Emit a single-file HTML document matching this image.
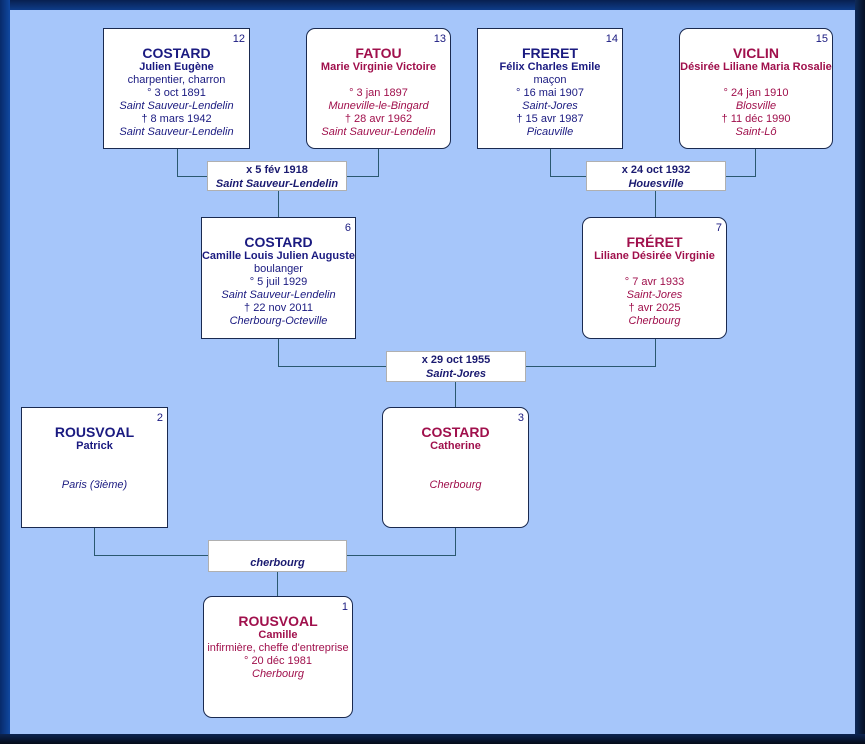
<!DOCTYPE html>
<html><head><meta charset="utf-8"><style>
*{margin:0;padding:0;box-sizing:border-box}
body{width:865px;height:744px;overflow:hidden;position:relative;font-family:"Liberation Sans",sans-serif;background:#0a2a60}
.top{position:absolute;left:0;top:0;width:865px;height:10px;background:linear-gradient(#082050,#0e3c88)}
.left{position:absolute;left:0;top:0;width:10px;height:744px;background:linear-gradient(90deg,#082a6a,#1048a0)}
.right{position:absolute;right:0;top:0;width:10px;height:744px;background:linear-gradient(90deg,#0e2a58,#061024)}
.bot{position:absolute;left:0;bottom:0;width:865px;height:10px;background:linear-gradient(#0c2450,#040a18)}
.inner{position:absolute;left:10px;top:10px;width:845px;height:724px;background:#a6c6fa}
svg{position:absolute;left:0;top:0}
.b{position:absolute;background:#fff;border:1px solid #1a2a50;text-align:center;font-size:11px;line-height:13px;padding-top:16px;white-space:nowrap;overflow:hidden}
.r{border-radius:9px}
.b .n{font-size:14px;font-weight:bold;line-height:16px}
.b .g{font-weight:bold}
.b i{display:block}
.b .num{position:absolute;right:4px;top:4px;font-size:11px}
.m{color:#1a1a80}.f{color:#a0104c}
.mar{position:absolute;background:#fff;border:1px solid #b0b0b0;text-align:center;font-size:11px;line-height:14px;font-weight:bold;color:#1a1a70;padding-top:1px}
.mar i{display:block}
</style></head><body>
<div class="top"></div><div class="left"></div><div class="right"></div><div class="bot"></div>
<div class="inner"></div>
<svg width="865" height="744"><g stroke="#2a5870" stroke-width="1" fill="none">
<path d="M177.5 148V176.5H207M378.5 148V176.5H346M278.5 190V217"/>
<path d="M550.5 148V176.5H586M755.5 148V176.5H725M655.5 190V217"/>
<path d="M278.5 338V366.5H386M655.5 338V366.5H525M455.5 381V407"/>
<path d="M94.5 527V555.5H208M455.5 527V555.5H346M277.5 571V596"/>
</g></svg>

<div class="b m" style="left:103px;top:28px;width:147px;height:121px"><span class="num">12</span><div class="n">COSTARD</div><div class="g">Julien Eugène</div><div>charpentier, charron</div><div>° 3 oct 1891</div><i>Saint Sauveur-Lendelin</i><div>† 8 mars 1942</div><i>Saint Sauveur-Lendelin</i></div>
<div class="b f r" style="left:306px;top:28px;width:145px;height:121px"><span class="num m">13</span><div class="n">FATOU</div><div class="g">Marie Virginie Victoire</div><div>&nbsp;</div><div>° 3 jan 1897</div><i>Muneville-le-Bingard</i><div>† 28 avr 1962</div><i>Saint Sauveur-Lendelin</i></div>
<div class="b m" style="left:477px;top:28px;width:146px;height:121px"><span class="num">14</span><div class="n">FRERET</div><div class="g">Félix Charles Emile</div><div>maçon</div><div>° 16 mai 1907</div><i>Saint-Jores</i><div>† 15 avr 1987</div><i>Picauville</i></div>
<div class="b f r" style="left:679px;top:28px;width:154px;height:121px"><span class="num m">15</span><div class="n">VICLIN</div><div class="g" style="margin-left:-40px;margin-right:-40px">Désirée Liliane Maria Rosalie</div><div>&nbsp;</div><div>° 24 jan 1910</div><i>Blosville</i><div>† 11 déc 1990</div><i>Saint-Lô</i></div>

<div class="mar" style="left:207px;top:161px;width:140px;height:30px">x 5 fév 1918<i>Saint Sauveur-Lendelin</i></div>
<div class="mar" style="left:586px;top:161px;width:140px;height:30px">x 24 oct 1932<i>Houesville</i></div>

<div class="b m" style="left:201px;top:217px;width:155px;height:122px"><span class="num">6</span><div class="n">COSTARD</div><div class="g" style="margin-left:-40px;margin-right:-40px">Camille Louis Julien Auguste</div><div>boulanger</div><div>° 5 juil 1929</div><i>Saint Sauveur-Lendelin</i><div>† 22 nov 2011</div><i>Cherbourg-Octeville</i></div>
<div class="b f r" style="left:582px;top:217px;width:145px;height:122px"><span class="num m">7</span><div class="n">FRÉRET</div><div class="g">Liliane Désirée Virginie</div><div>&nbsp;</div><div>° 7 avr 1933</div><i>Saint-Jores</i><div>† avr 2025</div><i>Cherbourg</i></div>

<div class="mar" style="left:386px;top:351px;width:140px;height:31px">x 29 oct 1955<i>Saint-Jores</i></div>

<div class="b m" style="left:21px;top:407px;width:147px;height:121px"><span class="num">2</span><div class="n">ROUSVOAL</div><div class="g">Patrick</div><div>&nbsp;</div><div>&nbsp;</div><i>Paris (3ième)</i></div>
<div class="b f r" style="left:382px;top:407px;width:147px;height:121px"><span class="num m">3</span><div class="n">COSTARD</div><div class="g">Catherine</div><div>&nbsp;</div><div>&nbsp;</div><i>Cherbourg</i></div>

<div class="mar" style="left:208px;top:540px;width:139px;height:32px"><div>&nbsp;</div><i>cherbourg</i></div>

<div class="b f r" style="left:203px;top:596px;width:150px;height:122px"><span class="num m">1</span><div class="n">ROUSVOAL</div><div class="g">Camille</div><div>infirmière, cheffe d'entreprise</div><div>° 20 déc 1981</div><i>Cherbourg</i></div>
</body></html>
